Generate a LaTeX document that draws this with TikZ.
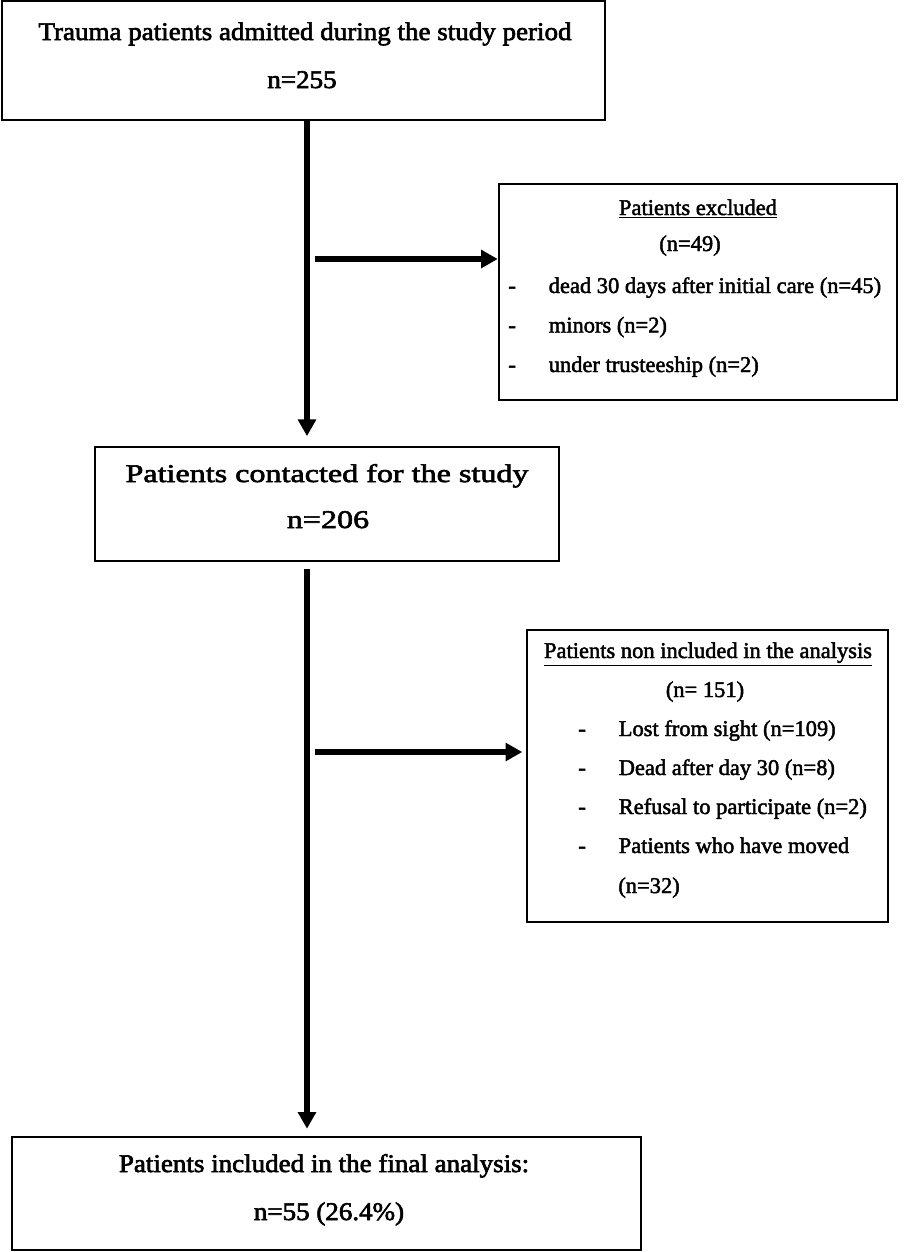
\documentclass[tikz,border=0pt]{standalone}
\usepackage{fontspec}
\setmainfont{Liberation Serif}
\newfontfamily\mainserif[FakeBold=2.5, FakeStretch=1.06]{Liberation Serif}
\newfontfamily\wideserif[FakeBold=2.5, FakeStretch=1.26]{Liberation Serif}
\newfontfamily\sideserif[FakeBold=2]{Liberation Serif}
\usetikzlibrary{arrows.meta, fit}

\tikzset{
  box/.style={draw, line width=1.4pt, inner sep=0pt},
  flow/.style={line width=3.8pt, -{Triangle[length=9.5pt, width=10pt]}},
  maintext/.style={inner sep=0pt, anchor=base, font=\mainserif\fontsize{14.5}{17}\selectfont},
  widetext/.style={inner sep=0pt, anchor=base, font=\wideserif\fontsize{14.5}{17}\selectfont},
  sidetext/.style={inner sep=0pt, anchor=base, font=\sideserif\fontsize{12.8}{15}\selectfont},
  itemtext/.style={sidetext, anchor=base west},
}

\begin{document}
\begin{tikzpicture}[x=0.02cm, y=-0.02cm]
    \useasboundingbox (0,0) rectangle (904,1252);

    % boxes
    \node[box, fit={(2,1) (605,120)}] (trauma) {};
    \node[box, fit={(499,184) (897,400)}] (excluded) {};
    \node[box, fit={(95,447) (559,561)}] (contacted) {};
    \node[box, fit={(527,630) (888,922)}] (nonincl) {};
    \node[box, fit={(12,1137) (641,1250)}] (final) {};

    % main texts
    \node[maintext] (traumaA) at (305,40) {Trauma patients admitted during the study period};
    \node[maintext] (traumaB) at (302,88) {n=255};
    \node[widetext] (contactedA) at (327,482) {Patients contacted for the study};
    \node[widetext] (contactedB) at (328,528) {n=206};
    \node[maintext] (finalA) at (324,1172) {Patients included in the final analysis:};
    \node[maintext] (finalB) at (329,1220) {n=55 (26.4\%)};

    % excluded
    \node[sidetext] (exhead) at (698,215) {\underline{Patients excluded}};
    \node[sidetext] (exn) at (690,251) {(n=49)};
    \foreach \txt [count=\i] in {dead 30 days after initial care (n=45), minors (n=2), under trusteeship (n=2)}
      \node[itemtext] (ex\i) at (508,{293+(\i-1)*39.5}) {\makebox[23pt][l]{-}\txt};

    % non included
    \node[sidetext] (nihead) at (708,658) {\underline{Patients non included in the analysis}};
    \node[sidetext] (nin) at (705,697) {(n= 151)};
    \foreach \txt [count=\i] in {Lost from sight (n=109), Dead after day 30 (n=8), Refusal to participate (n=2), Patients who have moved}
      \node[itemtext] (ni\i) at (578,{736+(\i-1)*39}) {\makebox[23pt][l]{-}\txt};
    \node[itemtext] (ni5) at (618,893) {(n=32)};

    % arrows
    \coordinate (stem) at (307,0);
    \coordinate (b1) at (315,259);
    \coordinate (b2) at (315,752);
    \draw[flow] (stem |- trauma.south) -- ([yshift=5.5pt]stem |- contacted.north);
    \draw[flow] ([yshift=-4pt]stem |- contacted.south) -- ([yshift=4pt]stem |- final.north);
    \draw[flow] (b1) -- (b1 -| excluded.west);
    \draw[flow] (b2) -- ([xshift=-2pt]b2 -| nonincl.west);
\end{tikzpicture}
\end{document}
